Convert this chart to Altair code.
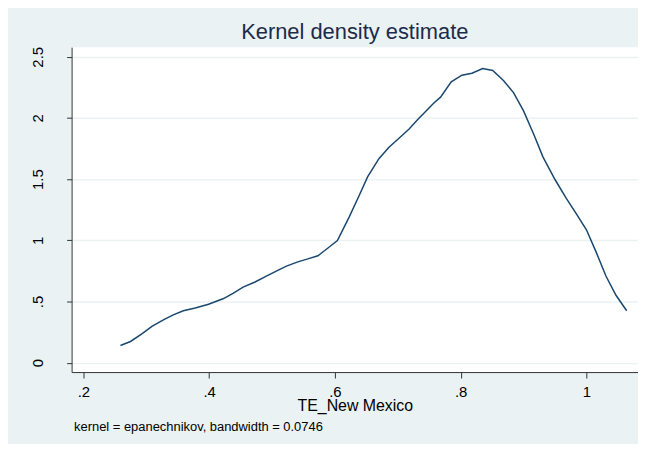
import altair as alt
import pandas as pd

# Values
te_values = [0.259, 0.275, 0.293, 0.309, 0.328, 0.343, 0.359, 0.378, 0.399, 0.423,
             0.438, 0.454, 0.473, 0.491, 0.510, 0.523, 0.541, 0.557, 0.573, 0.589,
             0.604, 0.623, 0.639, 0.652, 0.670, 0.686, 0.705, 0.718, 0.731, 0.757,
             0.768, 0.785, 0.802, 0.818, 0.835, 0.851, 0.868, 0.884, 0.900, 0.916,
             0.931, 0.950, 0.968, 0.984, 1.000, 1.016, 1.031, 1.047, 1.064]
density = [0.140, 0.173, 0.235, 0.297, 0.351, 0.391, 0.424, 0.446, 0.478, 0.524,
           0.567, 0.618, 0.659, 0.707, 0.756, 0.789, 0.824, 0.848, 0.874, 0.937,
           0.998, 1.194, 1.370, 1.518, 1.667, 1.761, 1.848, 1.910, 1.983, 2.120,
           2.170, 2.296, 2.350, 2.366, 2.404, 2.388, 2.307, 2.207, 2.058, 1.869,
           1.680, 1.497, 1.343, 1.216, 1.086, 0.897, 0.708, 0.551, 0.424]
x_ticks = [0.2, 0.4, 0.6, 0.8, 1.0]
y_ticks = [0, 0.5, 1.0, 1.5, 2.0, 2.5]
title_text = "Kernel density estimate"
x_title = "TE_New Mexico"
note_text = "kernel = epanechnikov, bandwidth = 0.0746"

df = pd.DataFrame({"x": te_values, "y": density})
note_df = pd.DataFrame({"t": [note_text]})

FONT = "Liberation Sans"
label_expr = ("datum.value > 0 && datum.value < 1 ? "
              "substring(format(datum.value, '.1f'), 1) : format(datum.value, '~g')")

line = alt.Chart(df).mark_line(color="#1a476f", strokeWidth=1.5).encode(
    x=alt.X("x:Q",
            scale=alt.Scale(domain=[0.1813, 1.082], nice=False, zero=False),
            axis=alt.Axis(values=x_ticks, labelExpr=label_expr, grid=False,
                          title=x_title, titleFont=FONT, titleFontSize=16,
                          titleFontWeight="normal", titleColor="#000000",
                          titleBaseline="alphabetic", titleY=38.7,
                          labelFont=FONT, labelFontSize=15, labelColor="#000000",
                          labelBaseline="alphabetic", labelPadding=18.7,
                          tickSize=6, tickColor="#333333",
                          domainColor="#333333", labelFlush=False)),
    y=alt.Y("y:Q",
            scale=alt.Scale(domain=[-0.077, 2.579], nice=False, zero=False),
            axis=alt.Axis(values=y_ticks, labelExpr=label_expr, grid=True,
                          gridColor="#eaf2f3", gridWidth=1.5, title="",
                          labelFont=FONT, labelFontSize=15, labelColor="#000000",
                          labelAngle=270, labelAlign="center",
                          labelBaseline="alphabetic", labelPadding=24,
                          tickSize=5, tickColor="#333333",
                          domainColor="#333333", labelFlush=False)),
)

note = alt.Chart(note_df).mark_text(
    align="left", baseline="alphabetic", font=FONT, fontSize=13, color="#000000"
).encode(x=alt.value(2.5), y=alt.value(386), text="t:N")

chart = alt.layer(line, note).properties(
    width=570,
    height=327,
    padding={"left": 64, "top": 38, "right": 0, "bottom": 71},
    autosize=alt.AutoSizeParams(type="none"),
    background="#eaf2f3",
    title=alt.TitleParams(text=title_text, font=FONT, fontSize=22,
                          fontWeight="normal", color="#1c2b4b",
                          anchor="middle", baseline="alphabetic", offset=8,
                          dy=23),
).configure_view(fill="#ffffff", stroke=None)

chart.save("out.html", embed_options={"renderer": "svg", "actions": False})
